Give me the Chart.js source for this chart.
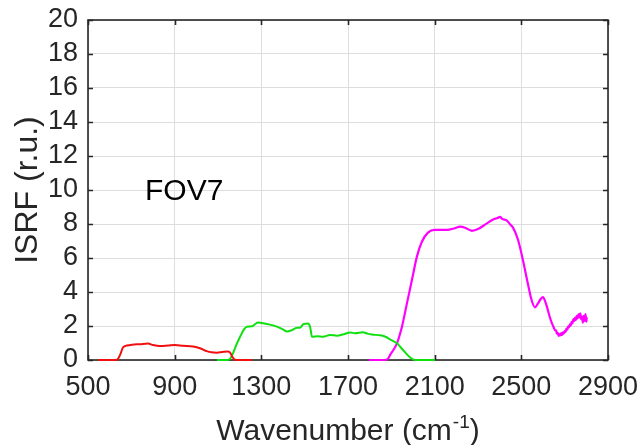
<!DOCTYPE html>
<html>
<head>
<meta charset="utf-8">
<script src="https://cdn.jsdelivr.net/npm/chart.js@4"></script>
<style>
  html, body { margin: 0; padding: 0; background: #fff; }
  #wrap { width: 641px; height: 445px; }
</style>
</head>
<body>
<div id="wrap"><canvas id="c" width="641" height="445"></canvas></div>
<script>
// Band 1 (red)
const redWn  = [546, 600, 634, 648, 662, 680, 703, 740, 777, 800, 832, 870, 901, 938, 985, 1020, 1048, 1070, 1095, 1120, 1146, 1158, 1165, 1178, 1200, 1257];
const redVal = [0, 0, 0.02, 0.3, 0.75, 0.85, 0.9, 0.93, 0.97, 0.88, 0.82, 0.85, 0.88, 0.84, 0.8, 0.68, 0.52, 0.45, 0.43, 0.47, 0.5, 0.4, 0.2, 0.02, 0, 0];

// Band 2 (green)
const greenWn  = [1095, 1146, 1160, 1169, 1185, 1202, 1220, 1233, 1257, 1270, 1285, 1308, 1340, 1372, 1400, 1418, 1440, 1464, 1478, 1495, 1515, 1525, 1534, 1560, 1584, 1617, 1649, 1680, 1710, 1732, 1769, 1790, 1810, 1848, 1870, 1894, 1926, 1954, 1986, 2009, 2101];
const greenVal = [0, 0, 0.15, 0.39, 0.9, 1.37, 1.8, 1.96, 1.98, 2.1, 2.2, 2.16, 2.08, 1.96, 1.8, 1.67, 1.75, 1.9, 1.9, 2.12, 2.14, 1.95, 1.37, 1.4, 1.37, 1.47, 1.43, 1.52, 1.62, 1.57, 1.63, 1.55, 1.5, 1.45, 1.38, 1.22, 0.98, 0.59, 0.16, 0, 0];

// Band 3 (magenta)
const magWn  = [1797, 1871, 1885, 1894, 1910, 1926, 1949, 1972, 1995, 2018, 2041, 2069, 2101, 2156, 2193, 2217, 2240, 2272, 2300, 2341, 2370, 2390, 2401, 2412, 2433, 2450, 2461, 2484, 2507, 2530, 2548, 2563, 2577, 2590, 2600, 2610, 2618, 2632, 2640, 2645, 2650, 2655, 2660, 2664, 2668, 2672, 2676, 2680, 2684, 2688, 2692, 2696, 2700, 2704, 2708, 2712, 2716, 2720, 2724, 2728, 2732, 2736, 2740, 2744, 2748, 2752, 2756, 2760, 2764, 2768, 2772, 2776, 2780, 2784, 2788, 2792, 2796, 2800, 2802];
const magVal = [0, 0, 0.08, 0.29, 0.6, 0.98, 1.96, 3.33, 4.7, 6.08, 6.96, 7.49, 7.65, 7.65, 7.75, 7.84, 7.78, 7.6, 7.7, 8.04, 8.27, 8.35, 8.42, 8.3, 8.2, 7.95, 7.8, 7.1, 5.9, 4.5, 3.5, 3.1, 3.33, 3.6, 3.7, 3.45, 3.14, 2.5, 2.2, 2.05, 1.9, 1.76, 1.75, 1.55, 1.6, 1.42, 1.52, 1.45, 1.58, 1.48, 1.62, 1.55, 1.7, 1.65, 1.85, 1.78, 1.98, 1.92, 2.1, 2.02, 2.25, 2.15, 2.4, 2.3, 2.5, 2.35, 2.6, 2.45, 2.7, 2.5, 2.75, 2.4, 2.55, 2.2, 2.6, 2.3, 2.7, 2.25, 2.5];

const xTicks = [500, 900, 1300, 1700, 2100, 2500, 2900];
const yTicks = [0, 2, 4, 6, 8, 10, 12, 14, 16, 18, 20];

const FONT = '"Liberation Sans", Arial, Helvetica, sans-serif';
const INK = '#262626';

const pts = (xs, ys) => xs.map((x, i) => ({ x: x, y: ys[i] }));

// Axes box with inward ticks on all four sides (under the curves),
// then the x-axis title and the panel label on top
const frame = {
  id: 'frame',
  beforeDatasetsDraw(chart) {
    const { ctx, chartArea: a, scales: { x, y } } = chart;
    ctx.save();
    ctx.strokeStyle = INK;
    ctx.lineWidth = 1.6;
    ctx.strokeRect(a.left, a.top, a.right - a.left, a.bottom - a.top);
    const tl = 5;
    ctx.beginPath();
    xTicks.forEach(v => {
      const px = Math.round(x.getPixelForValue(v)) + 0.5;
      ctx.moveTo(px, a.bottom); ctx.lineTo(px, a.bottom - tl);
      ctx.moveTo(px, a.top); ctx.lineTo(px, a.top + tl);
    });
    yTicks.forEach(v => {
      const py = Math.round(y.getPixelForValue(v)) + 0.5;
      ctx.moveTo(a.left, py); ctx.lineTo(a.left + tl, py);
      ctx.moveTo(a.right, py); ctx.lineTo(a.right - tl, py);
    });
    ctx.stroke();
    ctx.restore();
  },
  afterDatasetsDraw(chart) {
    const { ctx, chartArea: a, scales: { x, y } } = chart;
    ctx.save();
    // panel label
    ctx.fillStyle = '#000';
    ctx.font = '30px ' + FONT;
    ctx.textAlign = 'left';
    ctx.textBaseline = 'alphabetic';
    ctx.fillText('FOV7', x.getPixelForValue(763), y.getPixelForValue(9.41));

    // x-axis title with superscript
    ctx.fillStyle = INK;
    const main = '30px ' + FONT, sup = '19px ' + FONT;
    ctx.font = main;
    const w1 = ctx.measureText('Wavenumber (cm').width;
    const w3 = ctx.measureText(')').width;
    ctx.font = sup;
    const w2 = ctx.measureText('-1').width + 1;
    const cx = (a.left + a.right) / 2;
    const sx = cx - (w1 + w2 + w3) / 2;
    const base = 440;
    ctx.font = main;
    ctx.fillText('Wavenumber (cm', sx, base);
    ctx.font = sup;
    ctx.fillText('-1', sx + w1 + 1, base - 12);
    ctx.font = main;
    ctx.fillText(')', sx + w1 + w2, base);
    ctx.restore();
  }
};

new Chart(document.getElementById('c'), {
  type: 'line',
  data: {
    datasets: [
      { data: pts(redWn, redVal), borderColor: '#f01010', borderWidth: 2, clip: 4 },
      { data: pts(greenWn, greenVal), borderColor: '#10e010', borderWidth: 2, clip: 4 },
      { data: pts(magWn, magVal), borderColor: '#ff00ff', borderWidth: 2.2, clip: 4 }
    ]
  },
  options: {
    responsive: false,
    animation: false,
    parsing: false,
    layout: { padding: { top: 20, right: 33, left: 0, bottom: 0 } },
    elements: {
      point: { radius: 0 },
      line: { tension: 0, cubicInterpolationMode: 'monotone' }
    },
    plugins: { legend: { display: false }, tooltip: { enabled: false } },
    scales: {
      x: {
        type: 'linear',
        min: 500, max: 2900,
        afterBuildTicks: s => { s.ticks = xTicks.map(v => ({ value: v })); },
        afterFit: s => { s.height = 85; s.paddingLeft = 0; s.paddingRight = 0; },
        grid: { color: '#dddddd', lineWidth: 1, drawTicks: false },
        border: { display: false },
        ticks: { color: INK, font: { family: FONT, size: 27 }, padding: 11, maxRotation: 0, autoSkip: false,
                 callback: v => String(v) }
      },
      y: {
        min: 0, max: 20,
        afterBuildTicks: s => { s.ticks = yTicks.map(v => ({ value: v })); },
        afterFit: s => { s.width = 88; s.paddingTop = 0; s.paddingBottom = 0; },
        grid: { color: '#dddddd', lineWidth: 1, drawTicks: false },
        border: { display: false },
        ticks: { color: INK, font: { family: FONT, size: 27 }, padding: 10, autoSkip: false,
                 callback: v => String(v) },
        title: { display: true, text: 'ISRF (r.u.)', color: INK, font: { family: FONT, size: 32, lineHeight: 1 }, padding: { top: 12, bottom: 0 } }
      }
    }
  },
  plugins: [frame]
});
</script>
</body>
</html>
